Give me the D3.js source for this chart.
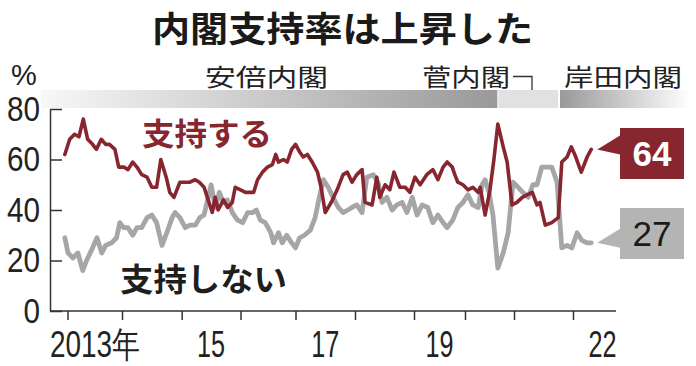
<!DOCTYPE html>
<html><head><meta charset="utf-8">
<script src="https://cdn.jsdelivr.net/npm/d3@7"></script>
<style>body{margin:0;background:#fff}svg{display:block}</style>
</head><body>
<svg id="c" width="696" height="366"></svg>
<script>
// ---- data ----
const title = "内閣支持率は上昇した";
const seriesNames = ["支持する", "支持しない"];
const approveYears = [2012.95,2013.04,2013.13,2013.21,2013.29,2013.37,2013.46,2013.53,2013.62,2013.70,2013.77,2013.87,2013.94,2014.03,2014.10,2014.18,2014.25,2014.33,2014.42,2014.50,2014.58,2014.65,2014.74,2014.80,2014.87,2014.97,2015.06,2015.14,2015.23,2015.30,2015.38,2015.45,2015.52,2015.57,2015.62,2015.71,2015.78,2015.86,2015.91,2016.00,2016.09,2016.18,2016.24,2016.31,2016.40,2016.49,2016.58,2016.64,2016.69,2016.78,2016.85,2016.93,2017.00,2017.07,2017.13,2017.20,2017.28,2017.37,2017.43,2017.50,2017.60,2017.70,2017.80,2017.87,2017.95,2018.03,2018.12,2018.17,2018.29,2018.37,2018.42,2018.51,2018.59,2018.66,2018.76,2018.85,2018.93,2019.02,2019.12,2019.25,2019.37,2019.47,2019.57,2019.65,2019.75,2019.80,2019.86,2019.96,2020.06,2020.16,2020.27,2020.31,2020.41,2020.51,2020.59,2020.67,2020.78,2020.86,2020.96,2021.05,2021.14,2021.22,2021.31,2021.39,2021.44,2021.53,2021.64,2021.75,2021.81,2021.90,2021.97,2022.03,2022.14,2022.24,2022.31];
const approveValues = [62,68,70,69,76,68,66,64,68,66,66,64,57,57,56,59,57,54,53,49,49,60,53,47,45,51,51,51,52,51,49,44,39,45,40,44,41,43,49,48,47,47,47,52,55,57,58,62,59,60,59,64,66,63,61,62,59,55,49,39,43,48,54,55,51,54,56,43,42,53,45,50,48,55,49,49,47,53,50,54,56,52,57,59,57,54,51,50,48,49,47,49,38,48,60,74,65,59,42,43,45,46,47,42,43,34,35,37,59,61,65,62,55,61,64];
const disapproveYears = [2012.95,2013.01,2013.10,2013.19,2013.28,2013.35,2013.46,2013.54,2013.63,2013.70,2013.81,2013.90,2013.96,2014.03,2014.10,2014.18,2014.25,2014.33,2014.42,2014.50,2014.58,2014.67,2014.75,2014.84,2014.89,2014.97,2015.06,2015.14,2015.23,2015.31,2015.38,2015.43,2015.50,2015.57,2015.64,2015.71,2015.78,2015.86,2015.95,2016.04,2016.13,2016.22,2016.29,2016.36,2016.45,2016.55,2016.60,2016.69,2016.76,2016.84,2016.93,2017.00,2017.07,2017.15,2017.25,2017.33,2017.40,2017.47,2017.55,2017.63,2017.72,2017.80,2017.88,2017.95,2018.03,2018.12,2018.20,2018.31,2018.39,2018.46,2018.54,2018.63,2018.71,2018.80,2018.88,2018.97,2019.06,2019.16,2019.27,2019.37,2019.47,2019.57,2019.65,2019.76,2019.86,2019.96,2020.06,2020.16,2020.27,2020.35,2020.41,2020.49,2020.57,2020.67,2020.78,2020.88,2020.98,2021.07,2021.15,2021.24,2021.32,2021.39,2021.47,2021.56,2021.64,2021.73,2021.81,2021.90,2021.98,2022.07,2022.15,2022.24,2022.31];
const disapproveValues = [29,23,21,23,16,20,25,29,23,26,27,29,35,33,33,30,33,33,37,38,35,26,31,37,39,37,33,34,34,37,38,43,50,41,47,43,44,39,36,35,39,39,40,36,35,31,27,31,27,30,27,25,29,30,32,37,45,52,49,45,41,39,40,41,42,39,53,54,51,43,45,40,42,43,39,45,38,42,41,35,38,35,33,36,41,43,46,42,41,50,52,47,38,17,23,31,51,49,47,45,50,50,57,57,57,51,25,26,25,31,28,27,27];
const yTicks = [0, 20, 40, 60, 80];
const xTickYears = [2013,2014,2015,2016,2017,2018,2019,2020,2021,2022];
const xLabelYears = [2013, 2015, 2017, 2019, 2022];
const xLabelTexts = ["2013年", "15", "17", "19", "22"];
const cabinetNames = ["安倍内閣", "菅内閣", "岸田内閣"];
const cabinetStarts = [2012.5, 2020.68, 2021.78];
const lastLabels = ["64", "27"];

// ---- layout ----
const svg = d3.select("#c");
const CJK = "'Noto Sans CJK JP','Noto Sans CJK SC',sans-serif";
const LAT = "'Liberation Sans',Arial,sans-serif";
const RED = "#88262f", GRAY = "#a6a6a8";

// the original axis spaces years unevenly, so use a polylinear scale
const x = d3.scaleLinear()
  .domain([2012.67, 2013, 2014, 2015, 2016, 2017, 2018, 2019, 2020, 2021, 2022, 2022.73])
  .range([50, 67.5, 122, 181.7, 240.5, 295.5, 355, 414, 465, 514, 573, 616]);
const y = d3.scaleLinear().domain([0, 80]).range([311, 109]);

// title
svg.append("text").text(title)
  .attr("x", 152).attr("y", 26).attr("dominant-baseline", "central")
  .attr("textLength", 381).attr("lengthAdjust", "spacingAndGlyphs")
  .style("font-family", CJK).style("font-weight", 700).style("font-size", "35px").attr("fill", "#1a1a1a");

// cabinet bars
const defs = svg.append("defs");
const g1 = defs.append("linearGradient").attr("id", "gAbe");
g1.append("stop").attr("offset", "0%").attr("stop-color", "#f8f8f8");
g1.append("stop").attr("offset", "100%").attr("stop-color", "#999999");
const g3 = defs.append("linearGradient").attr("id", "gKishida");
g3.append("stop").attr("offset", "0%").attr("stop-color", "#999999");
g3.append("stop").attr("offset", "100%").attr("stop-color", "#ffffff");
const barY = 90, barH = 18;
svg.append("rect").attr("x", x(cabinetStarts[0])).attr("y", barY)
  .attr("width", x(cabinetStarts[1]) - x(cabinetStarts[0]) - 1).attr("height", barH).attr("fill", "url(#gAbe)");
svg.append("rect").attr("x", x(cabinetStarts[1])).attr("y", barY)
  .attr("width", x(cabinetStarts[2]) - x(cabinetStarts[1]) - 2).attr("height", barH).attr("fill", "#e1e1e1");
svg.append("rect").attr("x", x(cabinetStarts[2])).attr("y", barY)
  .attr("width", 690 - x(cabinetStarts[2])).attr("height", barH).attr("fill", "url(#gKishida)");

// cabinet labels
const cabLab = [[205, 123], [422, 88], [564, 118]];
cabinetNames.forEach((n, i) => {
  svg.append("text").text(n).attr("x", cabLab[i][0]).attr("y", 75)
    .attr("dominant-baseline", "central")
    .attr("textLength", cabLab[i][1]).attr("lengthAdjust", "spacingAndGlyphs")
    .style("font-family", CJK).style("font-weight", 400).style("font-size", "24px").attr("fill", "#222");
});
svg.append("path").attr("d", "M513,76.5H532V90").attr("fill", "none").attr("stroke", "#333").attr("stroke-width", 1.3);

// % label
svg.append("text").text("%").attr("x", 11).attr("y", 85)
  .style("font-family", LAT).style("font-size", "29px").attr("fill", "#222");

// y axis
const ya = svg.append("g").attr("transform", "translate(50,0)")
  .call(d3.axisLeft(y).tickValues(yTicks).tickSizeInner(-12).tickSizeOuter(0).tickPadding(10).tickFormat(d3.format("d")));
ya.select(".domain").attr("stroke", "#333").attr("stroke-width", 1.5);
ya.selectAll(".tick line").attr("stroke", "#333").attr("stroke-width", 1.5);
ya.selectAll(".tick text").style("font-family", LAT).style("font-size", "35px").attr("fill", "#222")
  .attr("textLength", d => String(d).length * 16.5).attr("lengthAdjust", "spacingAndGlyphs");

// x axis
const xa = svg.append("g").attr("transform", "translate(0,311)")
  .call(d3.axisBottom(x).tickValues(xTickYears).tickSize(9).tickFormat(""));
xa.select(".domain").attr("d", `M50,0H616`).attr("stroke", "#333").attr("stroke-width", 1.5);
xa.selectAll(".tick line").attr("stroke", "#333").attr("stroke-width", 1.5);
xLabelYears.forEach((yr, i) => {
  const t = xLabelTexts[i];
  const first = i === 0;
  svg.append("text").text(t)
    .attr("x", first ? 50 : x(yr + 0.5)).attr("y", 357)
    .attr("text-anchor", first ? "start" : "middle")
    .attr("textLength", first ? 90 : 28).attr("lengthAdjust", "spacingAndGlyphs")
    .style("font-family", LAT).style("font-size", "36px").attr("fill", "#222");
});

// lines
const line = d3.line().x(d => x(d[0])).y(d => y(d[1]));
const disData = disapproveYears.map((t, i) => [t, disapproveValues[i]]);
const appData = approveYears.map((t, i) => [t, approveValues[i]]);
svg.append("path").datum(disData).attr("d", line).attr("fill", "none")
  .attr("stroke", GRAY).attr("stroke-width", 4.8).attr("stroke-linejoin", "round").attr("stroke-linecap", "round");
svg.append("path").datum(appData).attr("d", line).attr("fill", "none")
  .attr("stroke", RED).attr("stroke-width", 3.6).attr("stroke-linejoin", "round").attr("stroke-linecap", "round");

// series labels
svg.append("text").text(seriesNames[0]).attr("x", 142).attr("y", 131).attr("dominant-baseline", "central")
  .attr("textLength", 130).attr("lengthAdjust", "spacingAndGlyphs")
  .style("font-family", CJK).style("font-weight", 700).style("font-size", "31px").attr("fill", RED);
svg.append("text").text(seriesNames[1]).attr("x", 120).attr("y", 277).attr("dominant-baseline", "central")
  .attr("textLength", 167).attr("lengthAdjust", "spacingAndGlyphs")
  .style("font-family", CJK).style("font-weight", 700).style("font-size", "32px").attr("fill", "#1e1e1e");

// end value boxes
const lastA = appData[appData.length - 1], lastD = disData[disData.length - 1];
function endBox(pt, boxY, fill, txtFill, label, weight) {
  const px = x(pt[0]) + 6, py = y(pt[1]);
  svg.append("path").attr("d", `M${px},${py}L620,${py - 14}L620,${py + 5}Z`).attr("fill", fill);
  svg.append("rect").attr("x", 620).attr("y", boxY).attr("width", 64).attr("height", 51).attr("fill", fill);
  svg.append("text").text(label).attr("x", 652).attr("y", boxY + 38).attr("text-anchor", "middle")
    .style("font-family", LAT).style("font-weight", weight).style("font-size", "35px").attr("fill", txtFill);
}
endBox(lastA, 128, RED, "#fff", lastLabels[0], 700);
endBox(lastD, 208, "#b4b4b4", "#1a1a1a", lastLabels[1], 400);
</script>
</body></html>
